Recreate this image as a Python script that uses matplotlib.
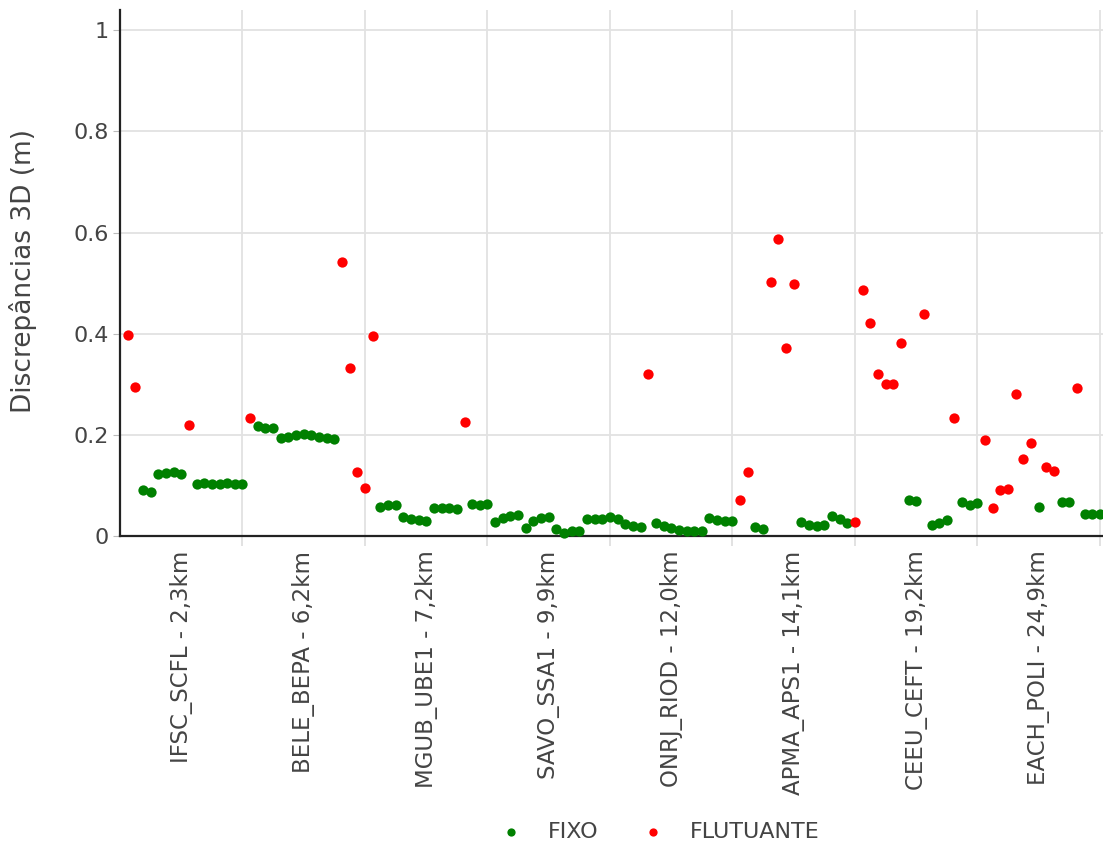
import matplotlib.pyplot as plt

# epocas (posicao no eixo x) e discrepancias 3D (m)
fixo_x = [3, 4, 5, 6, 7, 8, 10, 11, 12, 13, 14, 15, 16,
          18, 19, 20, 21, 22, 23, 24, 25, 26, 27, 28,
          34, 35, 36, 37, 38, 39, 40, 41, 42, 43, 44, 46, 47, 48,
          49, 50, 51, 52, 53, 54, 55, 56, 57, 58, 59, 60, 61, 62, 63, 64,
          65, 66, 67, 68, 70, 71, 72, 73, 74, 75, 76, 77, 78, 79, 80,
          83, 84, 89, 90, 91, 92, 93, 94, 95,
          103, 104, 106, 107, 108, 110, 111, 112,
          120, 123, 124, 126, 127, 128]
fixo_y = [0.090, 0.087, 0.122, 0.125, 0.126, 0.123, 0.103, 0.104, 0.102, 0.103, 0.104, 0.103, 0.102,
          0.217, 0.213, 0.213, 0.194, 0.196, 0.199, 0.202, 0.200, 0.195, 0.193, 0.191,
          0.057, 0.061, 0.062, 0.038, 0.033, 0.031, 0.030, 0.056, 0.055, 0.055, 0.054, 0.063, 0.062, 0.063,
          0.028, 0.036, 0.040, 0.042, 0.015, 0.030, 0.036, 0.037, 0.013, 0.006, 0.009, 0.010, 0.033, 0.033, 0.033, 0.037,
          0.034, 0.023, 0.019, 0.018, 0.025, 0.020, 0.015, 0.011, 0.010, 0.010, 0.010, 0.035, 0.032, 0.030, 0.030,
          0.018, 0.014, 0.027, 0.022, 0.020, 0.021, 0.040, 0.033, 0.026,
          0.071, 0.070, 0.022, 0.026, 0.031, 0.068, 0.061, 0.065,
          0.058, 0.068, 0.067, 0.044, 0.044, 0.044]

flut_x = [1, 2, 9, 17, 29, 30, 31, 32, 33, 45, 69, 81, 82, 85, 86, 87, 88,
          96, 97, 98, 99, 100, 101, 102, 105, 109,
          113, 114, 115, 116, 117, 118, 119, 121, 122, 125]
flut_y = [0.398, 0.294, 0.219, 0.233, 0.541, 0.333, 0.127, 0.095, 0.395, 0.226, 0.320,
          0.071, 0.126, 0.503, 0.588, 0.372, 0.498,
          0.027, 0.487, 0.422, 0.320, 0.300, 0.300, 0.381, 0.439, 0.233,
          0.190, 0.055, 0.091, 0.093, 0.280, 0.152, 0.183, 0.136, 0.128, 0.293]

linhas_base = ['IFSC_SCFL - 2,3km', 'BELE_BEPA - 6,2km', 'MGUB_UBE1 - 7,2km', 'SAVO_SSA1 - 9,9km',
               'ONRJ_RIOD - 12,0km', 'APMA_APS1 - 14,1km', 'CEEU_CEFT - 19,2km', 'EACH_POLI - 24,9km']
n_epocas = 16

fig = plt.figure(figsize=(11.03, 8.46), dpi=100)
ax = fig.add_axes([120 / 1103, 1 - 536 / 846, 1 - 120 / 1103, (536 - 10) / 846])

ax.scatter(fixo_x, fixo_y, s=55, color='#008000', label='FIXO', clip_on=False, zorder=3, linewidths=0)
ax.scatter(flut_x, flut_y, s=55, color='#ff0000', label='FLUTUANTE', clip_on=False, zorder=4, linewidths=0)

limites = [n_epocas * (i + 1) for i in range(len(linhas_base))]
centros = [n_epocas * i + n_epocas / 2 for i in range(len(linhas_base))]

ax.set_xlim(0, 128.4)
ax.set_ylim(0, 1.04)

ax.set_xticks(limites)
ax.set_xticklabels([])
ax.set_xticks(centros, linhas_base, minor=True)
ax.tick_params(axis='x', which='major', length=7, color='#dddddd', width=1.2)
ax.tick_params(axis='x', which='minor', length=0, pad=10.5, labelrotation=90,
               labelsize=16.5, labelcolor='#444444')

ax.set_yticks([0, 0.2, 0.4, 0.6, 0.8, 1.0])
ax.set_yticklabels(['0', '0.2', '0.4', '0.6', '0.8', '1'])
ax.tick_params(axis='y', length=5, color='#bbbbbb', labelsize=16, labelcolor='#444444', pad=3)

ax.grid(True, color='#e2e2e2', linewidth=1.3, zorder=0)
ax.set_axisbelow(True)

for lado in ['top', 'right']:
    ax.spines[lado].set_visible(False)
for lado in ['left', 'bottom']:
    ax.spines[lado].set_color('#222222')
    ax.spines[lado].set_linewidth(1.6)

fig.text(23 / 1103, 1 - 271 / 846, 'Discrepâncias 3D (m)', rotation=90,
         ha='center', va='center', fontsize=19, color='#444444')

fig.legend(loc='center', bbox_to_anchor=(660 / 1103, 1 - 832 / 846), ncol=2, frameon=False,
           fontsize=16, markerscale=0.8, handlelength=1.0, handletextpad=1.17, columnspacing=1.94,
           labelcolor='#444444')

fig.savefig('out.png', dpi=100)
